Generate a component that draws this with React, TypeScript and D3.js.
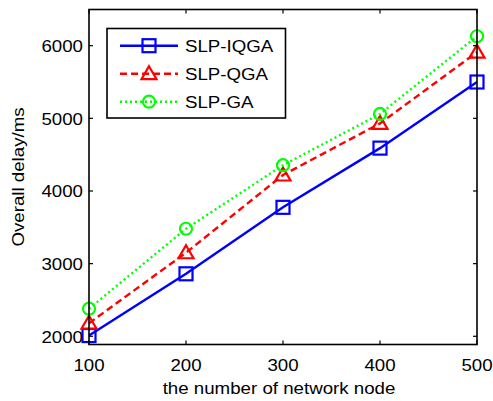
import React from "react";
import * as d3 from "d3";

const nodes = [100, 200, 300, 400, 500];
const iqga = [2010, 2860, 3775, 4590, 5500];
const qga = [2180, 3150, 4220, 4930, 5910];
const ga = [2380, 3480, 4355, 5060, 6130];
const seriesNames = ["SLP-IQGA", "SLP-QGA", "SLP-GA"];
const xTicks = [100, 200, 300, 400, 500];
const yTicks = [2000, 3000, 4000, 5000, 6000];

const W = 493, H = 401;
const L = 89, R = 477, T = 9.5, B = 344.5;
const FS = 17;
const SX = 1.1;

function Txt(props: { x: number; y: number; anchor?: string; rotate?: number; children: any }) {
  const { x, y, anchor, rotate, children } = props;
  return (
    <text
      transform={`translate(${x},${y})${rotate ? ` rotate(${rotate})` : ""} scale(${SX},1)`}
      fontSize={FS}
      textAnchor={anchor || "start"}
      fill="#000"
    >
      {children}
    </text>
  );
}

export default function App() {
  const x = d3.scaleLinear().domain([100, 500]).range([L, R]);
  const y = d3.scaleLinear().domain([1887, 6498]).range([B, T]);
  const styles = [
    { color: "#0000ff", dash: "none", marker: "square", data: iqga },
    { color: "#ff0000", dash: "7,4", marker: "triangle", data: qga },
    { color: "#00ff00", dash: "2,3", marker: "circle", data: ga },
  ];
  const line = d3.line<number>().x((_, i) => x(nodes[i])).y((d) => y(d));
  const marker = (kind: string, cx: number, cy: number, color: string, key: any) => {
    if (kind === "square")
      return <rect key={key} x={cx - 6.5} y={cy - 6.5} width={13} height={13} fill="none" stroke={color} strokeWidth={2.2} />;
    if (kind === "triangle")
      return <path key={key} d={`M${cx},${cy - 7.5}L${cx + 7.5},${cy + 5.5}L${cx - 7.5},${cy + 5.5}Z`} fill="none" stroke={color} strokeWidth={2.2} />;
    return <circle key={key} cx={cx} cy={cy} r={6} fill="none" stroke={color} strokeWidth={2.2} />;
  };
  const font = "Liberation Sans, Arial, sans-serif";
  return (
    <div style={{ position: "absolute", left: 0, top: 0 }}>
      <svg width={W} height={H} style={{ display: "block", background: "#fff" }} fontFamily={font}>
        <rect x={0} y={0} width={W} height={H} fill="#fff" />
        {styles.map((s, si) => (
          <g key={si}>
            <path d={line(s.data) || ""} fill="none" stroke={s.color} strokeWidth={2.4} strokeDasharray={s.dash} />
            {s.data.map((v, i) => marker(s.marker, x(nodes[i]), y(v), s.color, i))}
          </g>
        ))}
        <rect x={L} y={T} width={R - L} height={B - T} fill="none" stroke="#000" strokeWidth={1.6} />
        {xTicks.map((t) => (
          <g key={"x" + t}>
            <line x1={x(t)} x2={x(t)} y1={B} y2={B - 4} stroke="#000" strokeWidth={1.2} />
            <line x1={x(t)} x2={x(t)} y1={T} y2={T + 4} stroke="#000" strokeWidth={1.2} />
            <Txt x={x(t)} y={370.5} anchor="middle">{t}</Txt>
          </g>
        ))}
        {yTicks.map((t) => (
          <g key={"y" + t}>
            <line x1={L} x2={L + 4} y1={y(t)} y2={y(t)} stroke="#000" strokeWidth={1.2} />
            <line x1={R} x2={R - 4} y1={y(t)} y2={y(t)} stroke="#000" strokeWidth={1.2} />
            <Txt x={83} y={y(t) + 6.3} anchor="end">{t}</Txt>
          </g>
        ))}
        <Txt x={(L + R) / 2 - 4} y={394} anchor="middle">the number of network node</Txt>
        <Txt x={24} y={(T + B) / 2} anchor="middle" rotate={-90}>Overall delay/ms</Txt>
        <rect x={107} y={28.5} width={178.5} height={89.5} fill="#fff" stroke="#000" strokeWidth={1.6} />
        {styles.map((s, i) => {
          const ly = 45.7 + i * 28;
          return (
            <g key={"lg" + i}>
              <line x1={120} x2={178} y1={ly} y2={ly} stroke={s.color} strokeWidth={2.4} strokeDasharray={s.dash} />
              {marker(s.marker, 149, ly, s.color, "m")}
              <Txt x={185} y={ly + 6.3}>{seriesNames[i]}</Txt>
            </g>
          );
        })}
      </svg>
    </div>
  );
}
